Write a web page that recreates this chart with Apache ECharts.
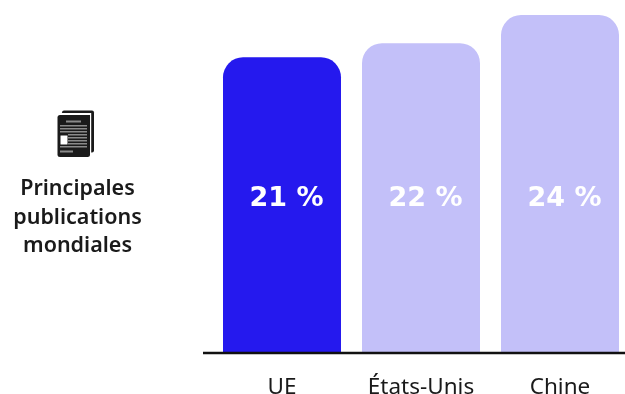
<!DOCTYPE html>
<html>
<head>
<meta charset="utf-8">
<style>html,body{margin:0;padding:0;background:#fff}#c{width:625px;height:394px}</style>
<script src="https://cdn.jsdelivr.net/npm/echarts@6/dist/echarts.min.js"></script>
</head>
<body>
<div id="c"></div>
<script>
const categories = ['UE', 'États-Unis', 'Chine'];
const shares = [21, 22, 24];
const barColors = ['#2519EE', '#C3C0F9', '#C3C0F9'];
const rowTitle = ['Principales', 'publications', 'mondiales'];
const FONT = '"Noto Sans", sans-serif';

const chart = echarts.init(document.getElementById('c'), null, { renderer: 'canvas' });

// Newspaper pictogram: a back sheet, a front sheet, and its printed lines
const ink = '#1a1a1a';
const paper = '#ffffff';
const stripe = '#8a8a8a';
const r = (x, y, width, height, fill, radius) => ({
  type: 'rect', shape: { x, y, width, height, r: radius || 0 }, style: { fill }
});
const pictogram = [
  r(62, 110.5, 32, 42, ink, 2),
  r(60, 113, 31, 2, paper),
  r(90, 113, 1.2, 40, paper),
  r(57.5, 115, 32.5, 42, ink, 2.5),
  r(66, 120.5, 15, 2, stripe),
  r(60, 125, 27, 1.5, stripe),
  r(60, 128, 27, 1.5, stripe),
  r(60, 131, 27, 1.5, stripe),
  r(68, 134, 19, 1.5, stripe),
  r(68, 137, 19, 1.5, stripe),
  r(68, 140, 19, 1.5, stripe),
  r(68, 143, 19, 1.5, stripe),
  r(60, 146, 27, 1.5, stripe),
  r(60, 150.5, 13, 2, stripe),
  r(60.5, 135.5, 7, 9, paper)
];

const titleLines = rowTitle.map((line, i) => ({
  type: 'text',
  x: 77.5,
  y: 189 + i * 28.5,
  style: {
    text: line, fill: '#1a1a1a', font: '600 21.5px ' + FONT,
    align: 'center', verticalAlign: 'middle'
  }
}));

chart.setOption({
  animation: false,
  grid: { left: 212.5, top: 1, width: 417, height: 352, outerBoundsMode: 'none' },
  xAxis: {
    type: 'category',
    data: categories,
    axisLine: { show: false },
    axisTick: { show: false },
    axisLabel: { color: '#1a1a1a', fontFamily: FONT, fontSize: 22.5, margin: 23 }
  },
  yAxis: { type: 'value', min: 0, max: 25, show: false },
  series: [{
    type: 'bar',
    data: shares.map((value, i) => ({ value, itemStyle: { color: barColors[i] } })),
    barWidth: 118,
    itemStyle: { borderRadius: [20, 20, 0, 0] },
    label: {
      show: true,
      position: 'insideBottom',
      distance: 141,
      offset: [4.5, 0],
      color: '#fff',
      fontFamily: '"DejaVu Sans", sans-serif',
      fontWeight: 'bold',
      fontSize: 27,
      formatter: p => p.value + ' %'
    }
  }],
  graphic: [
    { type: 'line', z: 10, shape: { x1: 203, y1: 353, x2: 625, y2: 353 }, style: { stroke: '#111', lineWidth: 2.4 } },
    ...pictogram,
    ...titleLines
  ]
});
</script>
</body>
</html>
